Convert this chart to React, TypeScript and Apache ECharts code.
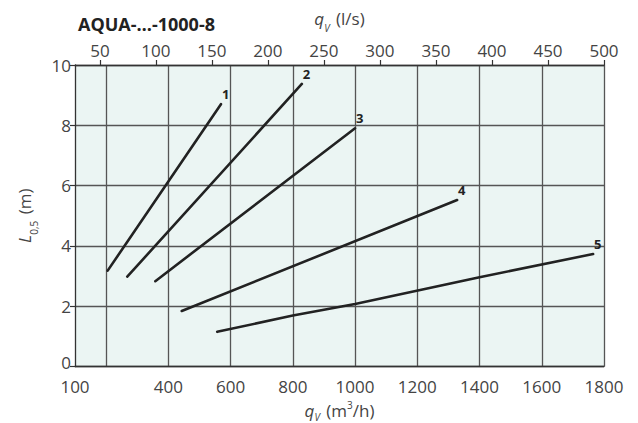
import React, { useEffect, useRef } from "react";
import * as echarts from "echarts";

const titleText = "AQUA-…-1000-8";
const yLabels = [0, 2, 4, 6, 8, 10];
const bottomLabels = [100, 400, 600, 800, 1000, 1200, 1400, 1600, 1800];
const bottomGrid = [200, 400, 600, 800, 1000, 1200, 1400, 1600, 1800];
const topLabels = [50, 100, 150, 200, 250, 300, 350, 400, 450, 500];

const curve1 = [[205, 3.18], [569, 8.7]];
const curve2 = [[268, 2.98], [829, 9.37]];
const curve3 = [[358, 2.83], [1000, 7.9]];
const curve4 = [[443, 1.84], [1328, 5.52]];
const curve5 = [[557, 1.15], [800, 1.69], [1000, 2.07], [1400, 2.96], [1765, 3.73]];
const curveNames = ["1", "2", "3", "4", "5"];

const FONT = "'Open Sans', 'DejaVu Sans', sans-serif";
const TXT = "#444";
const plain = (v: number) => String(v);

export default function App() {
  const ref = useRef<HTMLDivElement>(null);
  useEffect(() => {
    if (!ref.current) return;
    const chart = echarts.init(ref.current, null, { renderer: "svg" });
    const curves = [curve1, curve2, curve3, curve4, curve5];
    chart.setOption({
      animation: false,
      backgroundColor: "#fff",
      textStyle: { fontFamily: FONT },
      title: {
        text: titleText,
        left: 73,
        top: 10,
        textStyle: { fontFamily: FONT, fontSize: 18, fontWeight: "bold", color: "#222" },
      },
      grid: {
        left: 75,
        right: 34,
        top: 65,
        bottom: 56.5,
        show: true,
        backgroundColor: "#ebf5f3",
        borderWidth: 0,
        containLabel: false,
        outerBoundsMode: "none",
      },
      xAxis: [
        {
          type: "value",
          position: "bottom",
          min: 100,
          max: 1800,
          name: "{q|q}{v|V} (m{s|3}/h)",
          nameLocation: "middle",
          nameGap: 27,
          nameTextStyle: {
            fontFamily: FONT,
            fontSize: 17,
            color: TXT,
            rich: {
              q: { fontFamily: FONT, fontSize: 17, fontStyle: "italic", color: TXT },
              v: { fontFamily: FONT, fontSize: 10, fontStyle: "italic", color: TXT, verticalAlign: "bottom", padding: [0, 2, -3, 0] },
              s: { fontFamily: FONT, fontSize: 10, color: TXT, verticalAlign: "top", padding: [-2, 0, 0, 0] },
            },
          },
          axisLine: { show: true, lineStyle: { color: "#333", width: 1.3 } },
          axisTick: { show: false, customValues: bottomGrid },
          axisLabel: {
            customValues: bottomLabels,
            formatter: plain,
            fontFamily: FONT,
            fontSize: 17,
            lineHeight: 14,
            color: TXT,
            margin: 13,
            showMinLabel: true,
            showMaxLabel: true,
          },
          splitLine: { show: true, lineStyle: { color: "#555", width: 1.3 } },
        },
        {
          type: "value",
          position: "top",
          min: 100 / 3.6,
          max: 500,
          name: "{q|q}{v|V} (l/s)",
          nameLocation: "middle",
          nameGap: 38,
          nameTextStyle: {
            fontFamily: FONT,
            fontSize: 17,
            color: TXT,
            rich: {
              q: { fontFamily: FONT, fontSize: 17, fontStyle: "italic", color: TXT },
              v: { fontFamily: FONT, fontSize: 10, fontStyle: "italic", color: TXT, verticalAlign: "bottom", padding: [0, 2, -6, 0] },
            },
          },
          axisLine: { show: true, lineStyle: { color: "#333", width: 1.3 } },
          axisTick: { show: true, customValues: topLabels, length: 5, lineStyle: { color: "#333", width: 1.2 } },
          axisLabel: {
            customValues: topLabels,
            formatter: plain,
            fontFamily: FONT,
            fontSize: 17,
            color: TXT,
            margin: 6,
            showMinLabel: true,
            showMaxLabel: true,
          },
          splitLine: { show: false },
        },
      ],
      yAxis: {
        type: "value",
        min: 0,
        max: 10,
        interval: 2,
        name: "{l|L}{sub|0,5} (m)",
        nameLocation: "middle",
        nameGap: 42,
        nameRotate: 90,
        nameTextStyle: {
          fontFamily: FONT,
          fontSize: 17,
          color: TXT,
          rich: {
            l: { fontFamily: FONT, fontSize: 17, fontStyle: "italic", color: TXT },
            sub: { fontFamily: FONT, fontSize: 10, color: TXT, verticalAlign: "bottom", padding: [0, 2, -6, 0] },
          },
        },
        axisLine: { show: true, lineStyle: { color: "#333", width: 1.3 } },
        axisTick: { show: true, length: 5, lineStyle: { color: "#333", width: 1.2 } },
        axisLabel: {
          customValues: yLabels,
          formatter: (v: number) => (v === 0 ? "{z|0}" : String(v)),
          fontFamily: FONT,
          fontSize: 17,
          lineHeight: 14,
          color: TXT,
          margin: 4,
          rich: {
            z: { fontFamily: FONT, fontSize: 17, lineHeight: 14, color: TXT, padding: [0, 0, 8, 0] },
          },
        },
        splitLine: { show: true, lineStyle: { color: "#555", width: 1.3 } },
      },
      series: curves.map((c, i) => ({
        type: "line",
        xAxisIndex: 0,
        yAxisIndex: 0,
        data: c,
        symbol: "none",
        smooth: false,
        lineStyle: { color: "#222", width: 2.6, cap: "round" },
        endLabel: {
          show: true,
          formatter: curveNames[i],
          distance: 1,
          offset: [0, -10],
          fontFamily: FONT,
          fontSize: 13,
          fontWeight: "bold",
          color: "#222",
        },
      })),
    });
    return () => chart.dispose();
  }, []);
  return <div ref={ref} style={{ width: 638, height: 423, position: "absolute", left: 0, top: 0 }} />;
}
